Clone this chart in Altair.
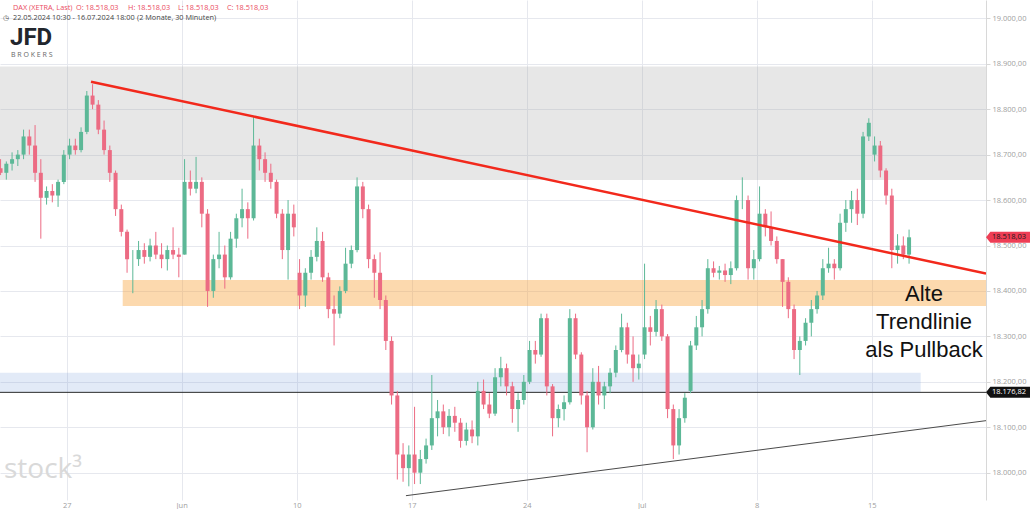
import altair as alt
import pandas as pd

# ---------------- axis definitions ----------------
tick_days = [3, 8, 13, 18, 23, 28, 33, 38]          # trading-day index of labelled Mondays
tick_labels = ["27", "Jun", "10", "17", "24", "Jul", "8", "15"]
price_ticks = [18000, 18100, 18200, 18300, 18400, 18500, 18600, 18700, 18800, 18900, 19000]
t_domain = [0.1, 42.97]
p_domain = [17939.9, 19040.3]

# ---------------- DAX candles (4 per trading day, 22.05. - 16.07.2024) ----------------
opens = [
    18670, 18660, 18680, 18690,  18700, 18740, 18720, 18660,  18605, 18620, 18610, 18640,
    18700, 18720, 18710, 18750,  18830, 18810, 18755, 18710,  18660, 18580, 18530, 18470,
    18470, 18490, 18475, 18500,  18480, 18470, 18490, 18480,  18480, 18640, 18625, 18640,
    18570, 18400, 18470, 18480,  18430, 18515, 18560, 18580,  18560, 18720, 18690, 18660,
    18640, 18570, 18490, 18570,  18440, 18390, 18440, 18475,  18510, 18430, 18360, 18350,
    18400, 18460, 18490, 18630,  18580, 18470, 18440, 18380,  18290, 18170, 18040, 18010,
    18040, 18000, 18030, 18060,  18120, 18135, 18100, 18125,  18110, 18070, 18095, 18080,
    18180, 18150, 18130, 18210,  18230, 18190, 18140, 18160,  18200, 18270, 18260, 18340,
    18190, 18120, 18140, 18155,  18340, 18260, 18170, 18100,  18200, 18170, 18190, 18220,
    18270, 18320, 18260, 18230,  18260, 18320, 18310, 18360,  18300, 18140, 18060, 18120,
    18180, 18280, 18320, 18360,  18450, 18440, 18445, 18435,  18450, 18600, 18600, 18450,
    18470, 18570, 18540, 18510,  18470, 18420, 18360, 18270,  18290, 18330, 18360, 18390,
    18450, 18460, 18450, 18550,  18580, 18600, 18570, 18740,  18700, 18720, 18665, 18610,
    18490, 18500, 18480,
]
highs = [
    18690, 18685, 18705, 18710,  18755, 18755, 18765, 18690,  18630, 18635, 18645, 18710,
    18735, 18735, 18760, 18840,  18855, 18820, 18775, 18720,  18665, 18590, 18535, 18490,
    18510, 18505, 18515, 18530,  18505, 18500, 18540, 18495,  18690, 18665, 18695, 18650,
    18580, 18480, 18530, 18500,  18530, 18570, 18625, 18595,  18785, 18735, 18705, 18680,
    18645, 18580, 18600, 18590,  18470, 18450, 18490, 18540,  18530, 18440, 18390, 18410,
    18495, 18500, 18650, 18640,  18590, 18480, 18485, 18390,  18300, 18180, 18065, 18060,
    18145, 18050, 18075, 18215,  18160, 18150, 18140, 18145,  18120, 18110, 18115, 18200,
    18205, 18175, 18230, 18255,  18240, 18200, 18175, 18215,  18290, 18290, 18350, 18350,
    18195, 18150, 18170, 18360,  18350, 18265, 18180, 18230,  18235, 18200, 18230, 18280,
    18350, 18330, 18300, 18260,  18460, 18345, 18380, 18370,  18305, 18150, 18140, 18175,
    18290, 18345, 18380, 18470,  18465, 18455, 18460, 18465,  18610, 18650, 18610, 18490,
    18630, 18580, 18575, 18520,  18470, 18430, 18370, 18300,  18340, 18380, 18400, 18470,
    18495, 18470, 18570, 18600,  18620, 18625, 18750, 18780,  18740, 18730, 18670, 18625,
    18525, 18520, 18535,
]
lows = [
    18655, 18645, 18665, 18675,  18690, 18700, 18640, 18515,  18590, 18595, 18585, 18635,
    18690, 18700, 18705, 18745,  18800, 18745, 18700, 18640,  18565, 18520, 18440, 18395,
    18455, 18460, 18465, 18470,  18450, 18445, 18470, 18430,  18480, 18610, 18615, 18540,
    18365, 18385, 18450, 18405,  18425, 18495, 18540, 18515,  18555, 18665, 18640, 18625,
    18560, 18470, 18425, 18520,  18360, 18365, 18425, 18465,  18420, 18340, 18280, 18340,
    18395, 18450, 18485, 18560,  18450, 18385, 18360, 18270,  18150, 17985, 17980, 17970,
    17975, 17975, 18020, 18050,  18080, 18085, 18080, 18090,  18055, 18060, 18065, 18060,
    18140, 18120, 18125, 18190,  18170, 18110, 18090, 18150,  18195, 18240, 18255, 18170,
    18080, 18100, 18115, 18150,  18250, 18150, 18045, 18095,  18150, 18140, 18175, 18210,
    18265, 18240, 18200, 18205,  18250, 18280, 18300, 18290,  18120, 18030, 18040, 18110,
    18175, 18270, 18300, 18350,  18430, 18425, 18420, 18415,  18445, 18580, 18425, 18425,
    18465, 18520, 18500, 18460,  18365, 18340, 18250, 18215,  18280, 18300, 18350, 18380,
    18440, 18425, 18445, 18530,  18550, 18545, 18560, 18730,  18685, 18650, 18590, 18450,
    18460, 18470, 18460,
]
closes = [
    18660, 18680, 18690, 18700,  18740, 18720, 18660, 18605,  18620, 18610, 18640, 18700,
    18720, 18710, 18750, 18830,  18810, 18755, 18710, 18660,  18580, 18530, 18470, 18470,
    18490, 18475, 18500, 18480,  18470, 18490, 18480, 18475,  18640, 18625, 18640, 18570,
    18400, 18470, 18480, 18430,  18515, 18560, 18580, 18560,  18720, 18690, 18660, 18640,
    18570, 18490, 18570, 18540,  18390, 18440, 18475, 18510,  18430, 18360, 18350, 18400,
    18460, 18490, 18630, 18580,  18470, 18440, 18380, 18290,  18170, 18040, 18010, 18040,
    18000, 18030, 18060, 18120,  18135, 18100, 18125, 18110,  18070, 18095, 18080, 18180,
    18150, 18130, 18210, 18230,  18190, 18140, 18160, 18200,  18270, 18260, 18340, 18190,
    18120, 18140, 18155, 18340,  18260, 18170, 18100, 18200,  18170, 18190, 18220, 18270,
    18320, 18260, 18230, 18240,  18320, 18310, 18360, 18300,  18140, 18060, 18120, 18165,
    18280, 18320, 18360, 18450,  18440, 18445, 18435, 18450,  18600, 18600, 18450, 18470,
    18570, 18540, 18510, 18470,  18420, 18360, 18270, 18290,  18330, 18360, 18390, 18450,
    18460, 18450, 18550, 18580,  18600, 18570, 18740, 18770,  18720, 18665, 18610, 18490,
    18500, 18480, 18518.03,
]

# ---------------- zones & drawn lines ----------------
zone_t0 = [0.1, 5.435, 0.1]
zone_t1 = [42.97, 42.97, 40.13]
zone_lo = [18644, 18367, 18177]
zone_hi = [18894, 18424, 18220]
zone_colors = ["#9e9e9e", "#f7a035", "#7096d8"]
zone_opacity = [0.25, 0.4, 0.2]

red_t = [4.057, 42.97]
red_p = [18860.5, 18438.3]
low_t = [17.75, 42.97]
low_p = [17949.4, 18114.5]
level_price = 18176.82
last_price = 18518.03

note_lines = ["Alte", "Trendlinie", "als Pullback"]


def de(v):
    s = f"{v:,.2f}"
    return s.replace(",", "_").replace(".", ",").replace("_", ".")


# ---------------- frames ----------------
rows = []
for i in range(len(opens)):
    rows.append({
        "t": i // 4 + (i % 4 + 0.5) / 4,
        "o": opens[i], "h": highs[i], "l": lows[i], "c": closes[i],
        "dir": "up" if closes[i] >= opens[i] else "down",
    })
candles = pd.DataFrame(rows)

xlab = "[" + ",".join(f"'{s}'" for s in tick_labels) + "][indexof([" + ",".join(str(d) for d in tick_days) + "], datum.value)]"
ylab = "replace(replace(replace(format(datum.value, ',.2f'), ',', '_'), '.', ','), '_', '.')"

x_scale = alt.Scale(domain=t_domain, nice=False, zero=False, padding=0)
y_scale = alt.Scale(domain=p_domain, nice=False, zero=False, padding=0)
x_axis = alt.Axis(values=tick_days, labelExpr=xlab, grid=True, gridColor="#e6e8ee",
                  domain=False, ticks=False, labelColor="#a0a0a0", labelFontSize=7.5,
                  labelFont="Open Sans", labelPadding=1, labelFlush=False)
y_axis = alt.Axis(orient="right", values=price_ticks, labelExpr=ylab, grid=True,
                  gridColor="#e6e8ee", domain=True, domainColor="#d8d8d8",
                  tickColor="#d8d8d8", tickSize=4, labelColor="#a0a0a0",
                  labelFontSize=7.5, labelFont="Open Sans", labelPadding=2,
                  labelFlush=False)


def X(field="t"):
    return alt.X(f"{field}:Q", title=None, scale=x_scale, axis=x_axis)


def Y(field="p"):
    return alt.Y(f"{field}:Q", title=None, scale=y_scale, axis=y_axis)


layers = []

for k in range(3):
    zdf = pd.DataFrame({"t": [zone_t0[k]], "t2": [zone_t1[k]], "p": [zone_lo[k]], "p2": [zone_hi[k]]})
    layers.append(alt.Chart(zdf).mark_rect(color=zone_colors[k], opacity=zone_opacity[k], clip=True)
                  .encode(x=X(), x2="t2:Q", y=Y(), y2="p2:Q"))

level_df = pd.DataFrame({"t": [t_domain[0]], "t2": [t_domain[1]], "p": [level_price]})
layers.append(alt.Chart(level_df).mark_rule(color="#2b2b2b", strokeWidth=1, clip=True)
              .encode(x=X(), x2="t2:Q", y=Y()))

low_df = pd.DataFrame({"t": low_t, "p": low_p})
layers.append(alt.Chart(low_df).mark_line(color="#4a4a4a", strokeWidth=1, clip=True).encode(x=X(), y=Y()))

color = alt.Color("dir:N", scale=alt.Scale(domain=["up", "down"], range=["#5cb897", "#ec6b83"]), legend=None)
layers.append(alt.Chart(candles).mark_rule(strokeWidth=1, clip=True)
              .encode(x=X("t"), y=Y("l"), y2="h:Q", color=color))
layers.append(alt.Chart(candles).mark_bar(size=4, clip=True)
              .encode(x=X("t"), y=Y("o"), y2="c:Q", color=color))

red_df = pd.DataFrame({"t": red_t, "p": red_p})
layers.append(alt.Chart(red_df).mark_line(color="#f2291c", strokeWidth=2.5, clip=True).encode(x=X(), y=Y()))

# price tags on the right axis
tag_path = "M -1 0 L -0.8 -0.25 L 1 -0.25 L 1 0.25 L -0.8 0.25 Z"
tags = pd.DataFrame({"p": [last_price, level_price], "lab": [de(last_price), de(level_price)],
                     "kind": ["last", "level"]})
layers.append(alt.Chart(tags).mark_point(shape=tag_path, filled=True, size=1936, opacity=1, strokeWidth=0)
              .encode(x=alt.value(1008), y=Y(),
                      color=alt.Color("kind:N", scale=alt.Scale(domain=["last", "level"], range=["#ee3e55", "#111111"]), legend=None)))
layers.append(alt.Chart(tags).mark_text(fontSize=7.5, font="Open Sans", align="center", baseline="middle")
              .encode(x=alt.value(1009), y=Y(), text="lab:N",
                      color=alt.Color("kind:N", scale=alt.Scale(domain=["last", "level"], range=["#1a1a1a", "#ffffff"]), legend=None)))

# annotation text
note_df = pd.DataFrame({"txt": note_lines, "yy": [300.7, 329, 356.7]})
layers.append(alt.Chart(note_df).mark_text(fontSize=22, font="Liberation Sans", align="center", baseline="alphabetic", color="#111111")
              .encode(x=alt.value(924), y=alt.Y("yy:Q", scale=None, axis=None), text="txt:N"))

# header texts
head = pd.DataFrame({
    "txt": ["DAX (XETRA, Last)", "O: " + de(last_price), "H: " + de(last_price), "L: " + de(last_price), "C: " + de(last_price)],
    "xx": [13, 76, 128, 178, 227],
})
layers.append(alt.Chart(head).mark_text(fontSize=7.3, font="Open Sans", align="left", baseline="alphabetic", color="#ea4a60")
              .encode(x=alt.X("xx:Q", scale=None, axis=None), y=alt.value(10), text="txt:N"))
head2 = pd.DataFrame({"txt": ["◷", "22.05.2024 10:30 - 16.07.2024 18:00", "(2 Monate, 30 Minuten)"], "xx": [3, 13, 137]})
layers.append(alt.Chart(head2).mark_text(fontSize=7.3, font="Open Sans", align="left", baseline="alphabetic", color="#444444")
              .encode(x=alt.X("xx:Q", scale=None, axis=None), y=alt.value(20), text="txt:N"))

# logo and watermark
logo = pd.DataFrame({"txt": ["JFD"]})
layers.append(alt.Chart(logo).mark_text(fontSize=24, font="Roboto", fontWeight="bold", align="left",
                                        baseline="alphabetic", color="#22262d")
              .encode(x=alt.value(10), y=alt.value(45.3), text="txt:N"))
brokers = pd.DataFrame({"txt": ["B R O K E R S"]})
layers.append(alt.Chart(brokers).mark_text(fontSize=7, font="Open Sans", align="left", baseline="alphabetic",
                                           color="#666666")
              .encode(x=alt.value(11), y=alt.value(56.7), text="txt:N"))
wm = pd.DataFrame({"txt": ["stock³"]})
layers.append(alt.Chart(wm).mark_text(fontSize=28, font="Open Sans", align="left", baseline="alphabetic", color="#d9d9d9")
              .encode(x=alt.value(4), y=alt.value(478), text="txt:N"))

chart = (alt.layer(*layers)
         .resolve_scale(color="independent")
         .properties(width=986, height=500, padding=0, background="white")
         .configure_view(stroke=None))

chart.save("out.html", embed_options={"renderer": "svg", "actions": False})
